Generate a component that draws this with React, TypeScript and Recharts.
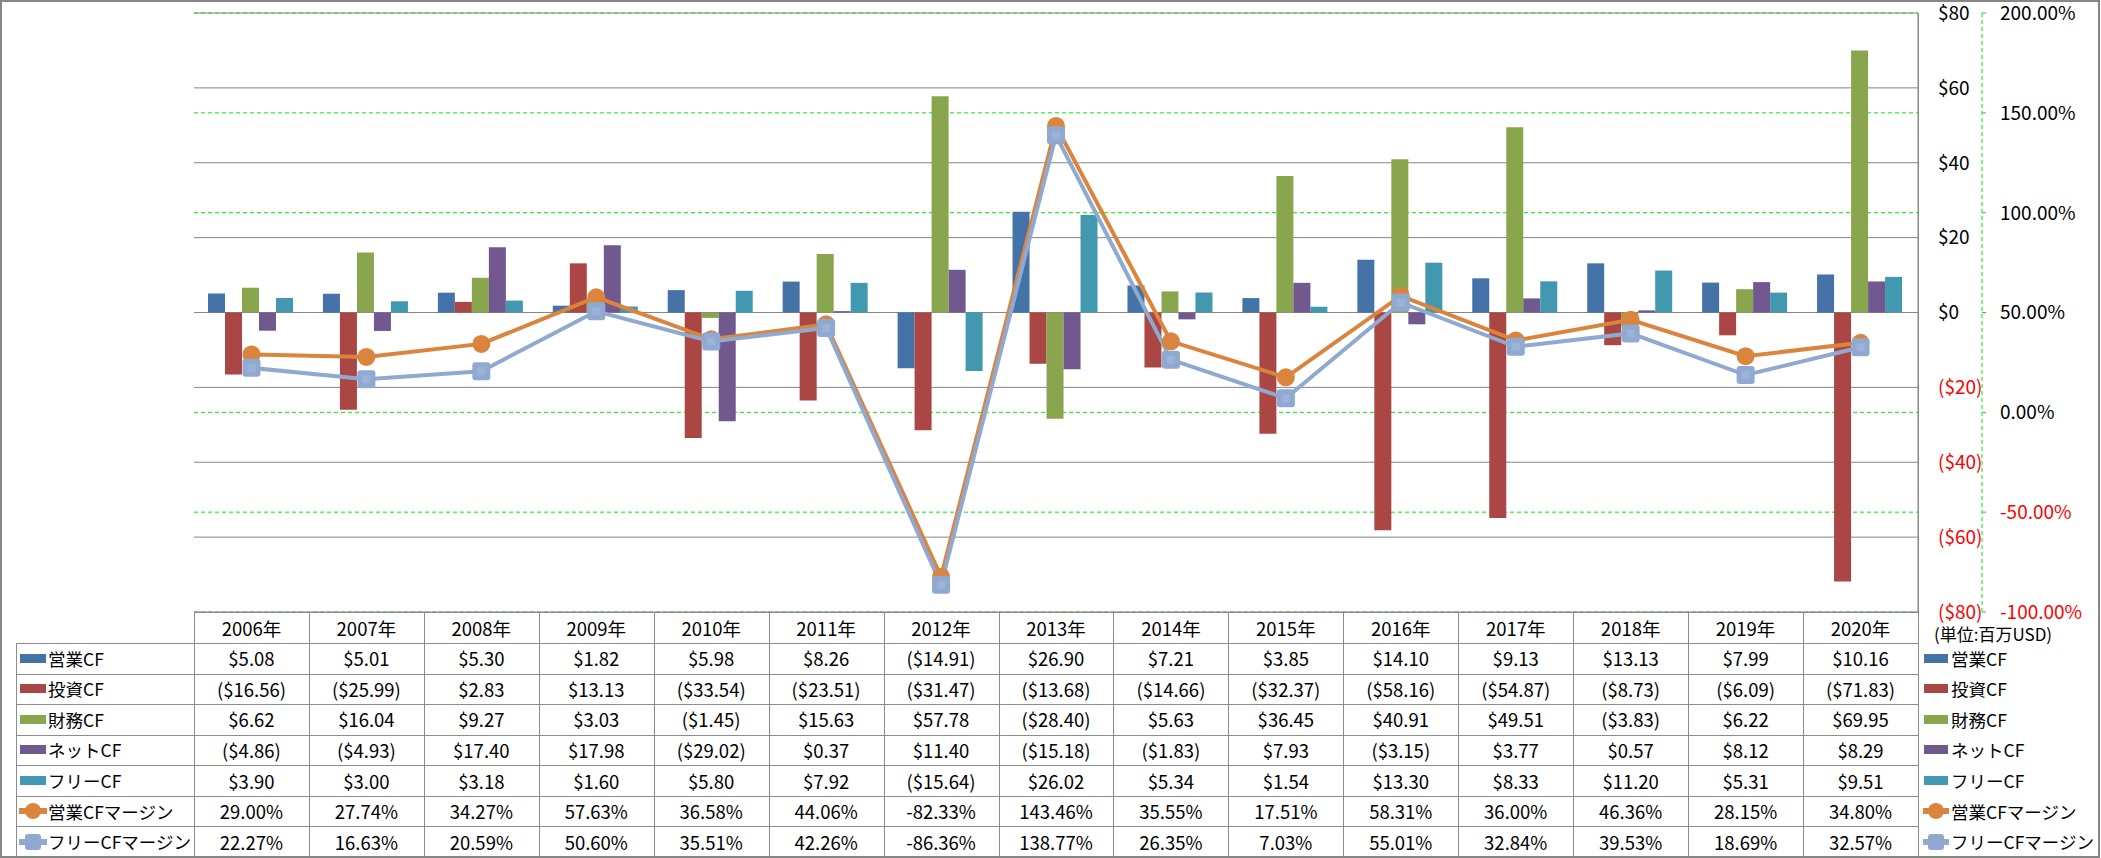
import { ComposedChart, Bar, Line, XAxis, YAxis, CartesianGrid } from "recharts"

// ---- data (単位: 百万USD) ----
const years = ["2006年", "2007年", "2008年", "2009年", "2010年", "2011年", "2012年", "2013年", "2014年", "2015年", "2016年", "2017年", "2018年", "2019年", "2020年"]
const operatingCF = [5.08, 5.01, 5.3, 1.82, 5.98, 8.26, -14.91, 26.9, 7.21, 3.85, 14.1, 9.13, 13.13, 7.99, 10.16]
const investingCF = [-16.56, -25.99, 2.83, 13.13, -33.54, -23.51, -31.47, -13.68, -14.66, -32.37, -58.16, -54.87, -8.73, -6.09, -71.83]
const financingCF = [6.62, 16.04, 9.27, 3.03, -1.45, 15.63, 57.78, -28.4, 5.63, 36.45, 40.91, 49.51, -3.83, 6.22, 69.95]
const netCF = [-4.86, -4.93, 17.4, 17.98, -29.02, 0.37, 11.4, -15.18, -1.83, 7.93, -3.15, 3.77, 0.57, 8.12, 8.29]
const freeCF = [3.9, 3.0, 3.18, 1.6, 5.8, 7.92, -15.64, 26.02, 5.34, 1.54, 13.3, 8.33, 11.2, 5.31, 9.51]
const operatingMargin = [29.0, 27.74, 34.27, 57.63, 36.58, 44.06, -82.33, 143.46, 35.55, 17.51, 58.31, 36.0, 46.36, 28.15, 34.8]
const freeMargin = [22.27, 16.63, 20.59, 50.6, 35.51, 42.26, -86.36, 138.77, 26.35, 7.03, 55.01, 32.84, 39.53, 18.69, 32.57]

const usdTicks = [-80, -60, -40, -20, 0, 20, 40, 60, 80]
const pctTicks = [-100, -50, 0, 50, 100, 150, 200]

const series = [
  { key: "op", name: "営業CF", values: operatingCF, color: "#4572A7", kind: "bar" },
  { key: "inv", name: "投資CF", values: investingCF, color: "#AA4643", kind: "bar" },
  { key: "fin", name: "財務CF", values: financingCF, color: "#89A54E", kind: "bar" },
  { key: "net", name: "ネットCF", values: netCF, color: "#71588F", kind: "bar" },
  { key: "free", name: "フリーCF", values: freeCF, color: "#4198AF", kind: "bar" },
  { key: "opm", name: "営業CFマージン", values: operatingMargin, color: "#DB843D", kind: "circle" },
  { key: "frm", name: "フリーCFマージン", values: freeMargin, color: "#8FA9D1", kind: "square" },
]

const chartData = years.map((y, i) => {
  const row: any = { year: y }
  series.forEach((s) => {
    row[s.key] = s.values[i]
  })
  return row
})

// ---- layout ----
const FONT = '"Noto Sans CJK JP", "Noto Sans", sans-serif'
const W = 2101
const H = 858
const PLOT_L = 194
const PLOT_T = 13
const PLOT_R = 1918
const PLOT_B = 612
const COL_W = (PLOT_R - PLOT_L) / years.length
const ROW0 = 643
const ROW_H = (857 - ROW0) / 7
const LINE = "#8c8c8c"
const GRID = "#868686"
const GREEN = "#00ee00"
const FS = 18.5
const LEG_FS = 17.5
const USD = "a_usd"
const PCT = "b_pct"

const fmtUsd = (v: number) => (v < 0 ? `($${Math.abs(v).toFixed(2)})` : `$${v.toFixed(2)}`)
const fmtPct = (v: number) => `${v.toFixed(2)}%`

const UsdTick = (props: any) => {
  const v = props.payload.value
  return (
    <text x={props.x} y={props.y} dy="0.36em" textAnchor="start" fontSize={19} fontFamily={FONT} fill={v < 0 ? "#ff0000" : "#000"}>
      {v < 0 ? `($${Math.abs(v)})` : `$${v}`}
    </text>
  )
}

const PctTick = (props: any) => {
  const v = props.payload.value
  return (
    <text x={props.x} y={props.y} dy="0.36em" textAnchor="start" fontSize={19} fontFamily={FONT} fill={v < 0 ? "#ff0000" : "#000"}>
      {fmtPct(v)}
    </text>
  )
}

const CircleDot = (props: any) => {
  if (props.cx == null || props.cy == null) return <g key={props.index} />
  return <circle key={props.index} cx={props.cx} cy={props.cy} r={9} fill="#DB843D" />
}

const SquareDot = (props: any) => {
  if (props.cx == null || props.cy == null) return <g key={props.index} />
  return (
    <g key={props.index}>
      <rect x={props.cx - 9} y={props.cy - 9} width={18} height={18} rx={3} fill="#8FA9D1" />
      <rect x={props.cx - 4} y={props.cy - 4} width={8} height={8} fill="#9CB3D8" />
    </g>
  )
}

function Swatch({ kind, color, w }: { kind: string; color: string; w: number }) {
  if (kind === "bar") {
    return <div style={{ width: w, height: 9, background: color, flex: "none" }} />
  }
  return (
    <svg width={w + 2} height={20} style={{ flex: "none", marginLeft: -1, marginRight: -1 }}>
      <line x1={0} x2={w + 2} y1={10} y2={10} stroke={color} strokeWidth={6} />
      {kind === "circle" ? (
        <circle cx={(w + 2) / 2} cy={10} r={8} fill={color} />
      ) : (
        <rect x={(w + 2) / 2 - 8} y={2} width={16} height={16} rx={3} fill={color} />
      )}
    </svg>
  )
}

const hLine = (key: string, y: number, x1: number, x2: number) => (
  <div key={key} style={{ position: "absolute", left: x1, top: y, width: x2 - x1, height: 1, background: LINE }} />
)
const vLine = (key: string, x: number, y1: number, y2: number) => (
  <div key={key} style={{ position: "absolute", left: x, top: y1, width: 1, height: y2 - y1, background: LINE }} />
)

export default function App() {
  const lines: any[] = []
  lines.push(hLine("top", PLOT_B, PLOT_L, PLOT_R + 1))
  for (let r = 0; r <= 7; r++) lines.push(hLine(`h${r}`, Math.round(ROW0 + r * ROW_H), 16, PLOT_R + 1))
  for (let c = 0; c <= years.length; c++) lines.push(vLine(`v${c}`, Math.round(PLOT_L + c * COL_W), PLOT_B, 857))
  lines.push(vLine("vl", 16, ROW0, 857))
  lines.push(vLine("vr", PLOT_R, PLOT_T, 857))

  const cellStyle = (left: number, top: number, width: number, height: number): any => ({
    position: "absolute",
    left,
    top,
    width,
    height,
    display: "flex",
    alignItems: "center",
    justifyContent: "center",
    fontSize: FS,
    color: "#000",
    whiteSpace: "nowrap",
  })

  return (
    <div style={{ position: "absolute", left: 0, top: 0, width: W, height: H, background: "#fff", fontFamily: FONT }}>
      <ComposedChart
        width={W}
        height={H}
        data={chartData}
        margin={{ top: PLOT_T, left: PLOT_L, right: 0, bottom: H - PLOT_B }}
        barCategoryGap={14}
        barGap={0}
      >
        <XAxis dataKey="year" hide />
        <YAxis
          yAxisId={USD}
          orientation="right"
          width={64}
          domain={[-80, 80]}
          ticks={usdTicks}
          interval={0}
          axisLine={{ stroke: GRID, strokeWidth: 1 }}
          tickLine={false}
          tickSize={0}
          tickMargin={20}
          tick={UsdTick}
        />
        <YAxis
          yAxisId={PCT}
          orientation="right"
          width={W - 1982}
          domain={[-100, 200]}
          ticks={pctTicks}
          interval={0}
          axisLine={{ stroke: GREEN, strokeDasharray: "4 3", strokeWidth: 1 }}
          tickLine={{ stroke: GREEN, strokeWidth: 1 }}
          tickSize={4}
          tickMargin={14}
          tick={PctTick}
        />
        <CartesianGrid yAxisId={PCT} vertical={false} stroke={GREEN} strokeDasharray="4 3" />
        <CartesianGrid yAxisId={USD} vertical={false} stroke={GRID} />
        {series
          .filter((s) => s.kind === "bar")
          .map((s) => (
            <Bar key={s.key} yAxisId={USD} dataKey={s.key} name={s.name} fill={s.color} isAnimationActive={false} />
          ))}
        <Line
          yAxisId={PCT}
          type="linear"
          dataKey="opm"
          name="営業CFマージン"
          stroke="#DB843D"
          strokeWidth={4}
          dot={CircleDot}
          activeDot={false}
          isAnimationActive={false}
        />
        <Line
          yAxisId={PCT}
          type="linear"
          dataKey="frm"
          name="フリーCFマージン"
          stroke="#8FA9D1"
          strokeWidth={4}
          dot={SquareDot}
          activeDot={false}
          isAnimationActive={false}
        />
      </ComposedChart>

      {/* data table under the plot */}
      {lines}
      {years.map((y, c) => (
        <div key={y} style={cellStyle(PLOT_L + c * COL_W, PLOT_B, COL_W, ROW0 - PLOT_B)}>
          {y}
        </div>
      ))}
      {series.map((s, r) => (
        <div key={s.key}>
          <div
            style={{
              position: "absolute",
              left: 20,
              top: ROW0 + r * ROW_H,
              height: ROW_H,
              display: "flex",
              alignItems: "center",
              gap: 2,
              fontSize: LEG_FS,
              whiteSpace: "nowrap",
            }}
          >
            <Swatch kind={s.kind} color={s.color} w={26} />
            <span>{s.name}</span>
          </div>
          {s.values.map((v, c) => (
            <div key={c} style={cellStyle(PLOT_L + c * COL_W, ROW0 + r * ROW_H, COL_W, ROW_H)}>
              {s.kind === "bar" ? fmtUsd(v) : fmtPct(v)}
            </div>
          ))}
          <div
            style={{
              position: "absolute",
              left: 1924,
              top: ROW0 + r * ROW_H,
              height: ROW_H,
              display: "flex",
              alignItems: "center",
              gap: 3,
              fontSize: LEG_FS,
              whiteSpace: "nowrap",
            }}
          >
            <Swatch kind={s.kind} color={s.color} w={24} />
            <span>{s.name}</span>
          </div>
        </div>
      ))}
      <div style={{ position: "absolute", left: 1934, top: 621, fontSize: 17, whiteSpace: "nowrap" }}>(単位:百万USD)</div>

      {/* outer frame */}
      <div style={{ position: "absolute", left: 0, top: 0, width: 2100, height: H, border: `2px solid ${GRID}`, boxSizing: "border-box", pointerEvents: "none" }} />
    </div>
  )
}
